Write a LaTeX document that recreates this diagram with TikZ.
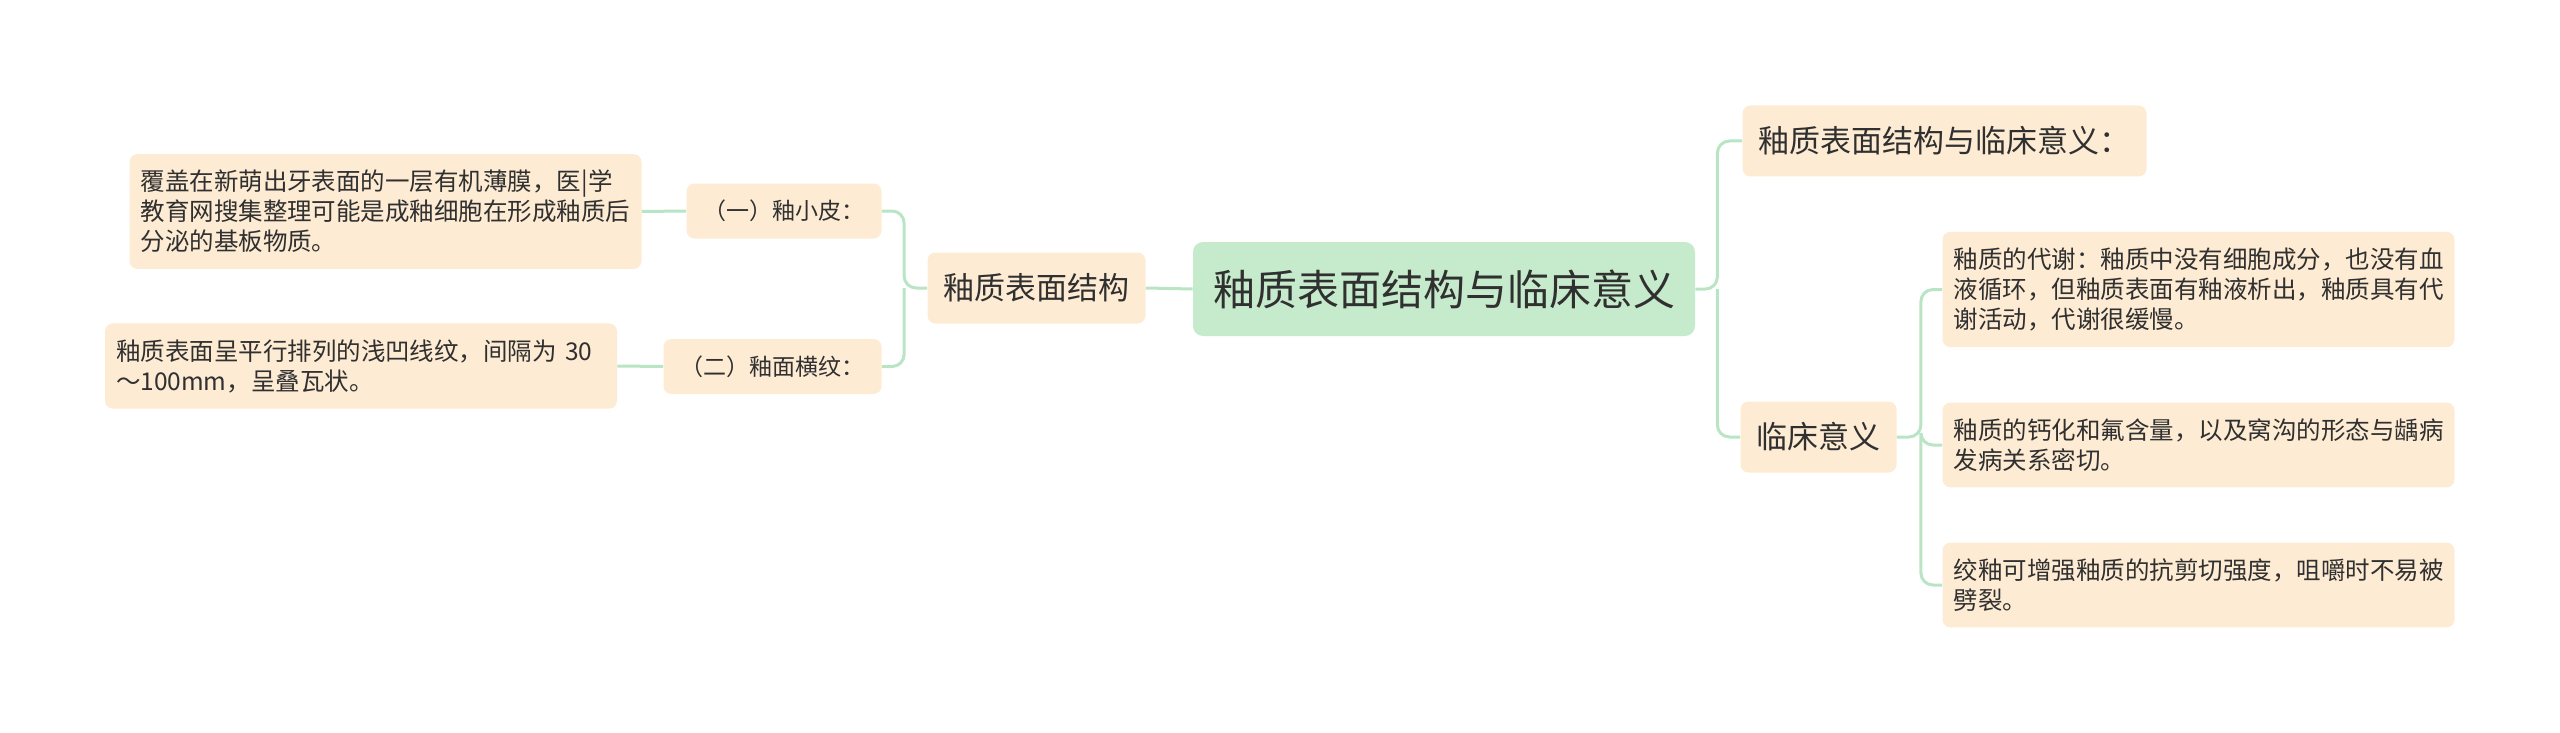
\documentclass[tikz,border=0pt]{standalone}
\usepackage{fontspec}
\setmainfont{Noto Sans CJK SC}
\usetikzlibrary{positioning,calc}
\definecolor{rootgreen}{HTML}{C6EBCC}
\definecolor{peach}{HTML}{FDEBD3}
\definecolor{linkgreen}{HTML}{B9E5C5}
\definecolor{inkgray}{HTML}{303030}

\begin{document}
\begin{tikzpicture}[
    x=0.5pt, y=-0.5pt,
    root/.style={rectangle, rounded corners=5pt, fill=rootgreen, text=inkgray, inner xsep=10pt, minimum height=47pt, font=\fontsize{21pt}{25pt}\selectfont},
    topic/.style={rectangle, rounded corners=4pt, fill=peach, text=inkgray, inner xsep=8pt, minimum height=35.5pt, font=\fontsize{15.5pt}{19pt}\selectfont},
    sub/.style={rectangle, rounded corners=4pt, fill=peach, text=inkgray, inner xsep=8.5pt, minimum height=27.5pt, font=\fontsize{11.5pt}{14pt}\selectfont},
    leaf/.style={rectangle, rounded corners=4pt, fill=peach, text=inkgray, text width=245pt, align=left, inner xsep=5.5pt, inner ysep=8pt, font=\fontsize{12.25pt}{15pt}\selectfont},
    link/.style={draw=linkgreen, line width=1.5pt, rounded corners=6pt}
]
\useasboundingbox (0,0) rectangle (2560,733);

% Mitte
\node[root] (root) at (1444,289) {釉质表面结构与临床意义};

% links
\node[topic] (surf) at (1036.5,288) {釉质表面结构};
\node[sub] (cuticle) at (784,211) {（一）釉小皮：};
\node[sub] (striae) at (772.5,366.5) {（二）釉面横纹：};
\node[leaf] (cuticletxt) at (385.5,211.5) {覆盖在新萌出牙表面的一层有机薄膜，医|学\\教育网搜集整理可能是成釉细胞在形成釉质后\\分泌的基板物质。};
\node[leaf] (striaetxt) at (361,366) {釉质表面呈平行排列的浅凹线纹，间隔为 30\\～100mm，呈叠瓦状。};

% rechts
\node[topic] (title) at (1944.5,141) {釉质表面结构与临床意义：};
\node[topic] (clinic) at (1818.5,437) {临床意义};
\node[leaf] (metab) at (2198.5,289.5) {釉质的代谢：釉质中没有细胞成分，也没有血\\液循环，但釉质表面有釉液析出，釉质具有代\\谢活动，代谢很缓慢。};
\node[leaf] (caries) at (2198.5,445) {釉质的钙化和氟含量，以及窝沟的形态与龋病\\发病关系密切。};
\node[leaf] (gnarled) at (2198.5,585) {绞釉可增强釉质的抗剪切强度，咀嚼时不易被\\劈裂。};

% Verbindungen
\coordinate (lj) at ($(surf.west)+(-23,0)$);
\coordinate (rj) at ($(root.east)+(22,0)$);
\coordinate (cj) at ($(clinic.east)+(24,0)$);

\draw[link] (root.west) -- (surf.east);
\draw[link] (surf.west) -- (lj) |- (cuticle.east);
\draw[link] (lj) |- (striae.east);
\draw[link] (cuticle.west) -- (cuticletxt.east);
\draw[link] (striae.west) -- (striaetxt.east);

\draw[link] (root.east) -- (rj) |- (title.west);
\draw[link] (rj) |- (clinic.west);
\draw[link] (clinic.east) -- (cj) |- (metab.west);
\draw[link] (cj) |- (caries.west);
\draw[link] (cj) |- (gnarled.west);
\end{tikzpicture}
\end{document}
